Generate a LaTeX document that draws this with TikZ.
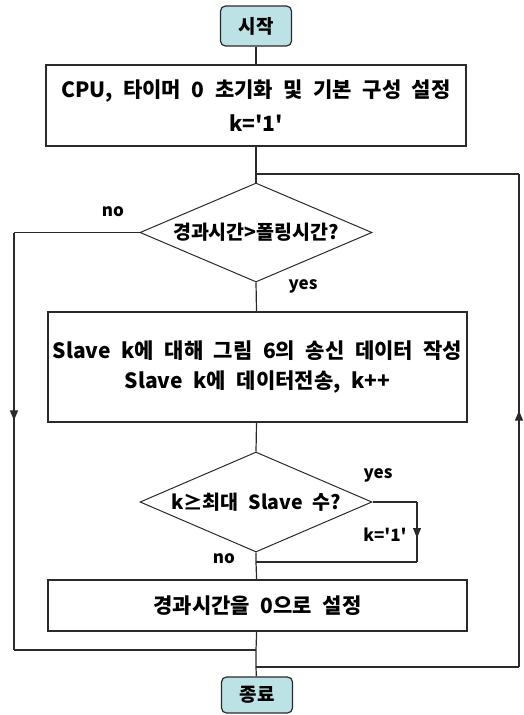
\documentclass[tikz,border=0pt]{standalone}
\usepackage{fontspec}
\setmainfont{Noto Sans CJK KR}[WordSpace=2.2,Ligatures=TeXOff]
\usetikzlibrary{shapes.geometric,arrows.meta,decorations.markings}
\definecolor{lineg}{HTML}{2A2A2A}
\definecolor{termfill}{HTML}{BCE2E5}
\tikzset{
  term/.style={draw=lineg, line width=1.2pt, fill=termfill, rounded corners=5pt, minimum width=71pt, minimum height=40pt, inner sep=0pt, font=\fontsize{19}{22}\selectfont\bfseries},
  procbox/.style={draw=lineg, line width=1.2pt, fill=white, inner sep=0pt, align=center},
  decbox/.style={draw=lineg, line width=1pt, diamond, inner sep=0pt, minimum width=232pt, minimum height=99pt},
  conn/.style={draw=lineg, line width=1.2pt},
  midarrow/.style={postaction={decorate}, decoration={markings, mark=at position #1 with {\arrow{Triangle[width=8pt,length=10pt]}}}},
  lbl/.style={inner sep=0pt, font=\fontsize{17}{20}\selectfont\bfseries},
  txt/.style={font=\fontsize{19.5}{22}\selectfont\bfseries}
}
\begin{document}
\begin{tikzpicture}[x=1pt,y=-1pt]
\useasboundingbox (0,0) rectangle (524,715);
\node[term] (start) at (256,26) {시작};
\node[procbox, minimum width=420pt, minimum height=81pt, font=\fontsize{21}{34}\selectfont\bfseries] (init) at (256,105.5) {CPU, 타이머 0 초기화 및 기본 구성 설정\\k='1'};
\node[decbox, label={[txt]center:경과시간>폴링시간?}] (dec1) at (256,232.5) {};
\node[procbox, minimum width=419pt, minimum height=110pt, font=\fontsize{21}{30}\selectfont\bfseries] (send) at (257.5,367) {Slave k에 대해 그림 6의 송신 데이터 작성\\Slave k에 데이터전송, k++};
\node[decbox, minimum height=100pt, label={[txt]center:k≥최대 Slave 수?}] (dec2) at (256,502) {};
\node[procbox, minimum width=419pt, minimum height=51pt, font=\fontsize{21}{24}\selectfont\bfseries] (reset) at (257.5,605.5) {경과시간을 0으로 설정};
\node[term, minimum height=36pt] (stop) at (257,695) {종료};

\coordinate (j1) at (256,174);
\coordinate (j2) at (256,650);
\coordinate (j3) at (256,562);
\coordinate (j4) at (256,667);
\coordinate (l1) at (14,232.5);
\coordinate (l2) at (14,650);
\coordinate (r1) at (519,667);
\coordinate (r2) at (519,174);
\coordinate (y1) at (417,502);
\coordinate (y2) at (417,562);

\draw[conn] (start) -- (init);
\draw[conn] (init) -- (j1) -- (dec1.north);
\draw[conn] (dec1.south) -- (send);
\draw[conn] (send) -- (dec2.north);
\draw[conn] (dec2.south) -- (j3) -- (reset);
\draw[conn] (reset) -- (j2) -- (j4) -- (stop);
\draw[conn] (dec1.west) -- (l1);
\draw[conn, midarrow=0.45] (l1) -- (l2);
\draw[conn] (l2) -- (j2);
\draw[conn] (j4) -- (r1);
\draw[conn, midarrow=0.52] (r1) -- (r2);
\draw[conn] (r2) -- (j1);
\draw[conn] (dec2.east) -- (y1);
\draw[conn, midarrow=0.6] (y1) -- (y2);
\draw[conn] (y2) -- (j3);

\node[lbl] (no1) at (113,212) {no};
\node[lbl] (yes1) at (303,286) {yes};
\node[lbl] (yes2) at (378,475) {yes};
\node[lbl] (kone) at (385,535) {k='1'};
\node[lbl] (no2) at (224,559) {no};
\end{tikzpicture}
\end{document}
